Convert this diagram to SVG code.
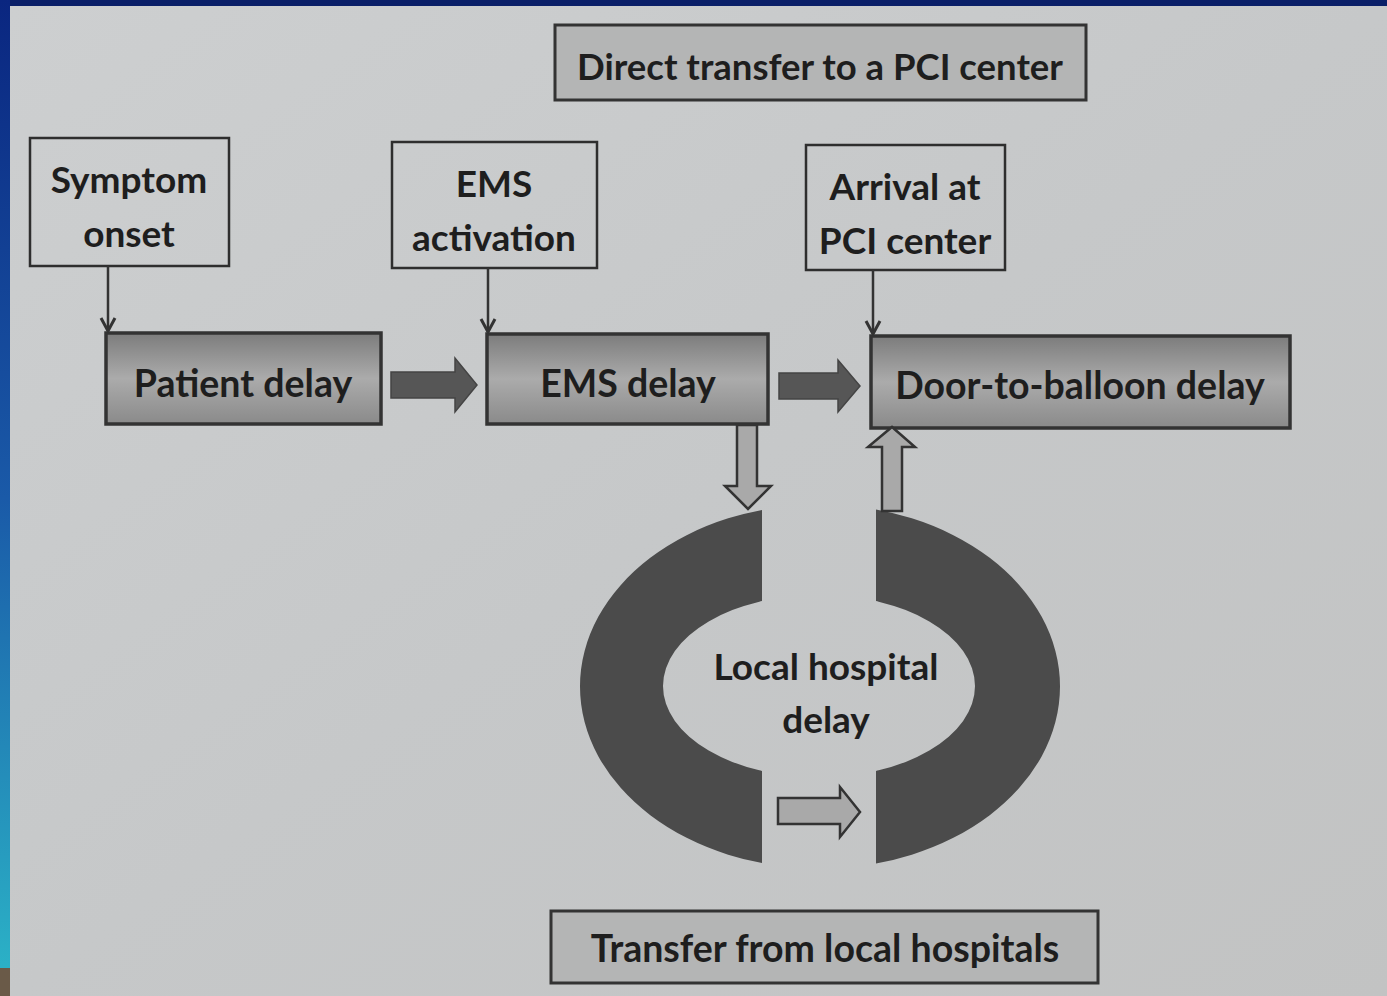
<svg xmlns="http://www.w3.org/2000/svg" width="1387" height="996" viewBox="0 0 1387 996">
  <defs>
    <linearGradient id="leftEdge" x1="0" y1="0" x2="0" y2="1">
      <stop offset="0" stop-color="#0a2680"/>
      <stop offset="0.5" stop-color="#1a5aa8"/>
      <stop offset="1" stop-color="#2cb6c8"/>
    </linearGradient>
    <linearGradient id="paper" x1="0" y1="0" x2="1" y2="1">
      <stop offset="0" stop-color="#cdcfd0"/>
      <stop offset="0.5" stop-color="#c6c8c9"/>
      <stop offset="1" stop-color="#c2c3c3"/>
    </linearGradient>
    <linearGradient id="delayFill" x1="0" y1="0" x2="0" y2="1">
      <stop offset="0" stop-color="#7c7c7c"/>
      <stop offset="0.5" stop-color="#ababab"/>
      <stop offset="1" stop-color="#8a8a8a"/>
    </linearGradient>
    <clipPath id="cClip">
      <rect x="0" y="0" width="762" height="996"/>
      <rect x="876" y="0" width="511" height="996"/>
    </clipPath>
    <marker id="vhead" markerWidth="18" markerHeight="18" refX="15" refY="9" orient="auto" markerUnits="userSpaceOnUse" viewBox="0 0 18 18">
      <path d="M2,2 L15,9 L2,16" fill="none" stroke="#333" stroke-width="3"/>
    </marker>
    <style>
      .txt { font-family: Lato, "Liberation Sans", sans-serif; font-weight: 700; fill: #1e1e1e; text-anchor: middle; }
      .big { font-size: 37.5px; }
      .mid { font-size: 37px; }
      .plain { fill: none; stroke: #2e2e2e; stroke-width: 2.5; }
      .delay { fill: url(#delayFill); stroke: #333; stroke-width: 3.5; }
      .transfer { fill: #b4b5b5; stroke: #333; stroke-width: 3; }
      .thick { fill: #565656; stroke: #444; stroke-width: 1.5; }
      .light { fill: #a9a9a9; stroke: #333; stroke-width: 2.5; }
      .thin { fill: none; stroke: #333; stroke-width: 2.5; }
      .ring { fill: #4b4b4b; fill-rule: evenodd; }
    </style>
  </defs>

  <!-- frame and paper -->
  <rect x="0" y="0" width="1387" height="996" fill="#0a1f68"/>
  <rect x="0" y="0" width="10" height="996" fill="url(#leftEdge)"/>
  <rect x="0" y="968" width="10" height="28" fill="#6a5a48"/>
  <rect x="10" y="6" width="1377" height="990" fill="url(#paper)"/>

  <!-- local hospital ring -->
  <g id="local-hospital">
    <path class="ring" clip-path="url(#cClip)" d="M580,686.5 A240,182 0 1,0 1060,686.5 A240,182 0 1,0 580,686.5 Z M663,686 A156,91.3 0 1,0 975,686 A156,91.3 0 1,0 663,686 Z"/>
    <text class="txt mid" x="826" y="680">Local hospital</text>
    <text class="txt mid" x="826" y="733">delay</text>
  </g>

  <g id="direct-transfer">
    <rect class="transfer" x="555" y="25" width="531" height="75"/>
    <text class="txt big" x="820" y="80" style="font-size:36.5px">Direct transfer to a PCI center</text>
  </g>

  <g id="symptom-onset">
    <rect class="plain" x="30" y="138" width="199" height="128"/>
    <text class="txt mid" x="129" y="193">Symptom</text>
    <text class="txt mid" x="129" y="247">onset</text>
  </g>

  <g id="ems-activation">
    <rect class="plain" x="392" y="142" width="205" height="126"/>
    <text class="txt mid" x="494" y="197">EMS</text>
    <text class="txt mid" x="494" y="251">activation</text>
  </g>

  <g id="arrival-pci">
    <rect class="plain" x="806" y="145" width="199" height="125"/>
    <text class="txt mid" x="905" y="200">Arrival at</text>
    <text class="txt mid" x="905" y="254">PCI center</text>
  </g>

  <g id="patient-delay">
    <rect class="delay" x="106" y="333" width="275" height="91"/>
    <text class="txt big" x="243" y="397">Patient delay</text>
  </g>

  <g id="ems-delay">
    <rect class="delay" x="487" y="334" width="281" height="90"/>
    <text class="txt big" x="628" y="397">EMS delay</text>
  </g>

  <g id="door-to-balloon">
    <rect class="delay" x="871" y="336" width="419" height="92"/>
    <text class="txt big" x="1080" y="399">Door-to-balloon delay</text>
  </g>

  <g id="transfer-local">
    <rect class="transfer" x="551" y="911" width="547" height="72"/>
    <text class="txt big" x="825" y="962">Transfer from local hospitals</text>
  </g>

  <g id="connectors">
    <line class="thin" x1="108" y1="266" x2="108" y2="331" marker-end="url(#vhead)"/>
    <line class="thin" x1="488" y1="268" x2="488" y2="332" marker-end="url(#vhead)"/>
    <line class="thin" x1="873" y1="270" x2="873" y2="334" marker-end="url(#vhead)"/>
    <polygon class="thick" points="391,372 455,372 455,358 477,385 455,412 455,398 391,398"/>
    <polygon class="thick" points="779,373 838,373 838,360 860,386 838,412 838,399 779,399"/>
    <polygon class="light" points="737,425 757,425 757,486 771,486 748,509 725,486 737,486"/>
    <polygon class="light" points="882,511 882,447 868,447 892,427 915,447 902,447 902,511"/>
    <polygon class="light" points="778,798 840,798 840,787 860,812 840,837 840,824 778,824"/>
  </g>
</svg>
